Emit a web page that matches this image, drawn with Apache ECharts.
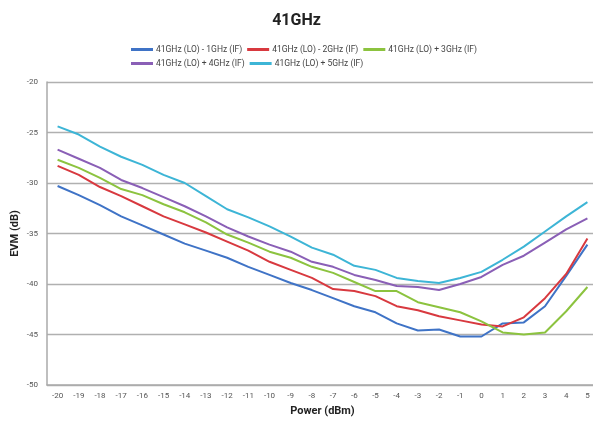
<!DOCTYPE html>
<html>
<head>
<meta charset="utf-8">
<script src="https://cdn.jsdelivr.net/npm/echarts@6/dist/echarts.min.js"></script>
<style>html,body{margin:0;padding:0;background:#fff}#c{width:593px;height:423px}</style>
</head>
<body>
<div id="c"></div>
<script>
var categories = ['-20','-19','-18','-17','-16','-15','-14','-13','-12','-11','-10','-9','-8','-7','-6','-5','-4','-3','-2','-1','0','1','2','3','4','5'];
var seriesNames = ['41GHz (LO) - 1GHz (IF)','41GHz (LO) - 2GHz (IF)','41GHz (LO) + 3GHz (IF)','41GHz (LO) + 4GHz (IF)','41GHz (LO) + 5GHz (IF)'];
var lo_minus_1 = [-30.3,-31.2,-32.2,-33.3,-34.2,-35.1,-36.0,-36.7,-37.4,-38.3,-39.1,-39.9,-40.6,-41.4,-42.2,-42.8,-43.9,-44.6,-44.5,-45.2,-45.2,-43.9,-43.8,-42.2,-39.2,-36.1];
var lo_minus_2 = [-28.3,-29.2,-30.4,-31.3,-32.3,-33.3,-34.1,-34.9,-35.8,-36.7,-37.8,-38.6,-39.4,-40.5,-40.7,-41.2,-42.2,-42.6,-43.2,-43.6,-44.0,-44.2,-43.3,-41.4,-39.0,-35.5];
var lo_plus_3 = [-27.7,-28.5,-29.5,-30.6,-31.2,-32.1,-32.9,-33.9,-35.1,-35.9,-36.8,-37.4,-38.3,-38.9,-39.8,-40.7,-40.7,-41.8,-42.3,-42.8,-43.7,-44.8,-45.0,-44.8,-42.7,-40.3];
var lo_plus_4 = [-26.7,-27.6,-28.5,-29.7,-30.5,-31.4,-32.3,-33.3,-34.4,-35.3,-36.1,-36.8,-37.8,-38.3,-39.1,-39.6,-40.2,-40.3,-40.6,-40.0,-39.3,-38.1,-37.2,-35.9,-34.6,-33.5];
var lo_plus_5 = [-24.4,-25.2,-26.4,-27.4,-28.2,-29.2,-30.0,-31.3,-32.6,-33.4,-34.3,-35.3,-36.4,-37.1,-38.2,-38.6,-39.4,-39.7,-39.9,-39.4,-38.8,-37.6,-36.3,-34.8,-33.3,-31.9];
var colors = ['#3f73c6','#d8393f','#8cc33f','#8a5fb6','#3db5d6'];

var dataSets = [lo_minus_1, lo_minus_2, lo_plus_3, lo_plus_4, lo_plus_5];
var series = dataSets.map(function(d, i){
  return {
    name: seriesNames[i], type: 'line', data: d, showSymbol: false, symbol: 'none',
    lineStyle: {width: 2, color: colors[i]}, itemStyle: {color: colors[i]}, z: 2
  };
});

var chart = echarts.init(document.getElementById('c'), null, {renderer: 'canvas'});
chart.setOption({
  animation: false,
  backgroundColor: '#fff',
  textStyle: {fontFamily: 'Roboto'},
  title: {
    text: '41GHz', left: 'center', top: 8,
    textStyle: {fontFamily: 'Roboto', fontWeight: 'bold', fontSize: 16, color: '#222'}
  },
  legend: {
    left: 126, top: 40, width: 370,
    itemWidth: 22, itemHeight: 3, itemGap: 5, icon: 'rect',
    textStyle: {fontFamily: 'Roboto', fontSize: 8.5, color: '#444', padding: [0,0,0,-2]},
    data: seriesNames
  },
  grid: {left: 47, width: 551, top: 82, bottom: 38, containLabel: false, outerBoundsMode: 'none'},
  xAxis: {
    type: 'category', data: categories, boundaryGap: true,
    name: 'Power (dBm)', nameLocation: 'middle', nameGap: 21, nameMoveOverlap: false,
    nameTextStyle: {fontFamily: 'Roboto', fontWeight: 'bold', fontSize: 11, color: '#222'},
    axisLine: {lineStyle: {color: '#aaa', width: 1.5}},
    axisTick: {show: false},
    axisLabel: {fontSize: 8, color: '#555', margin: 7, interval: 0}
  },
  yAxis: {
    type: 'value', min: -50, max: -20, interval: 5,
    name: 'EVM (dB)', nameLocation: 'middle', nameGap: 26, nameRotate: 90, nameMoveOverlap: false,
    nameTextStyle: {fontFamily: 'Roboto', fontWeight: 'bold', fontSize: 11, color: '#222'},
    axisLine: {show: true, lineStyle: {color: '#aaa', width: 1.5}},
    axisTick: {show: false},
    axisLabel: {fontSize: 8, color: '#555', margin: 9},
    splitLine: {lineStyle: {color: '#b0b0b0', width: 1.3}}
  },
  series: series
});
</script>
</body>
</html>
